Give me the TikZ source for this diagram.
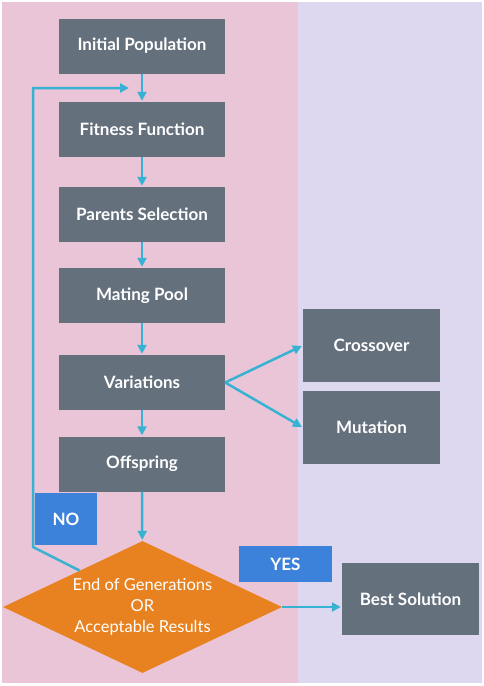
\documentclass[tikz,border=0pt]{standalone}
\usepackage{fontspec}
\setmainfont{Lato}
\usetikzlibrary{arrows.meta, positioning, calc, shapes.geometric}
\definecolor{pinkbg}{HTML}{EAC5D8}
\definecolor{lavbg}{HTML}{DDD7EF}
\definecolor{boxgray}{HTML}{65707D}
\definecolor{flow}{HTML}{38B2D3}
\definecolor{decor}{HTML}{E88220}
\definecolor{tagblue}{HTML}{3C82DA}

\begin{document}
\begin{tikzpicture}[x=1pt,y=-1pt,
  step box/.style={fill=boxgray,text=white,inner sep=0pt,
    font=\fontsize{17}{20}\selectfont\bfseries,
    minimum width=166pt,minimum height=55pt},
  side box/.style={step box,minimum width=137pt,minimum height=73pt},
  tag/.style={fill=tagblue,text=white,inner sep=0pt,
    font=\fontsize{17}{20}\selectfont\bfseries},
  flowline/.style={draw=flow,line width=2.5pt,
    -{Triangle[length=9pt,width=9pt]},shorten >=1pt}]
  \useasboundingbox (0,0) rectangle (484,686);
  \fill[pinkbg] (2,2) rectangle (298,683);
  \fill[lavbg] (298,2) rectangle (482,683);

  \node[step box] (init) at (142,46) {Initial Population};
  \node[step box] (fit) at (142,129.5) {Fitness Function};
  \node[step box] (parents) at (142,214.5) {Parents Selection};
  \node[step box] (pool) at (142,295.5) {Mating Pool};
  \node[step box] (var) at (142,382.5) {Variations};
  \node[step box] (off) at (142,464) {Offspring};

  \node[side box] (cross) at (371.5,345.5) {Crossover};
  \node[side box] (mut) at (371.5,427.5) {Mutation};

  \node[diamond,fill=decor,text=white,inner sep=0pt,aspect=2.11,
    minimum width=279pt,minimum height=132pt,align=center,
    font=\fontsize{16.5}{21}\selectfont] (dec) at (142.5,607)
    {End of Generations\\OR\\Acceptable Results};
  \node[side box,minimum height=72pt] (best) at (410.5,599) {Best Solution};

  \node[tag,minimum width=62pt,minimum height=52pt] (no) at (66,519) {NO};
  \node[tag,minimum width=93pt,minimum height=36pt] (yes) at (285.5,564) {YES};

  \draw[flowline] (init) -- (fit);
  \draw[flowline] (fit) -- (parents);
  \draw[flowline] (parents) -- (pool);
  \draw[flowline] (pool) -- (var);
  \draw[flowline] (var) -- (off);
  \draw[flowline] (off) -- (dec);
  \draw[flowline] (var.east) -- (cross.west);
  \draw[flowline] (var.east) -- (mut.west);
  \draw[flowline] (dec.east) -- (dec.east -| best.west);

  \coordinate (loop) at (130,88);
  \draw[flowline] ($(dec.west)!0.55!(dec.north)$) -- (33,547) -- (33,88) -- (loop);
\end{tikzpicture}
\end{document}
